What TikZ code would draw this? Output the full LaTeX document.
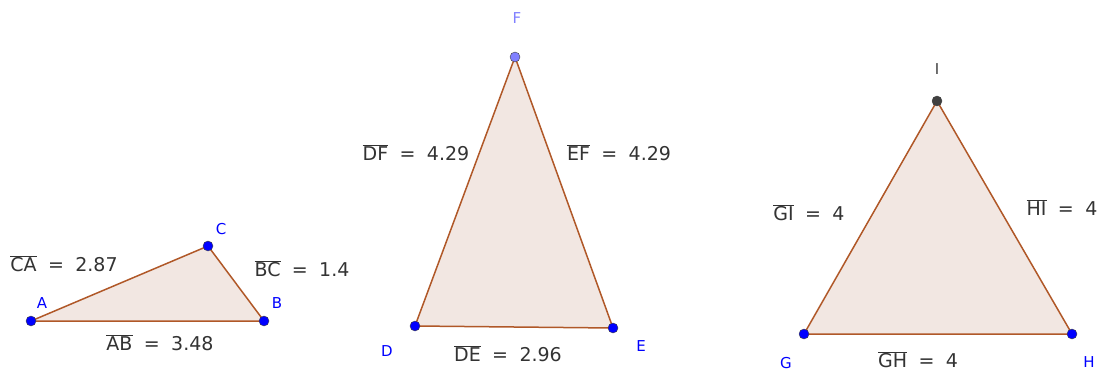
\documentclass[tikz,border=0pt]{standalone}
\usepackage{fontspec}
\setmainfont{DejaVu Sans}
\definecolor{edge}{RGB}{176,88,40}
\definecolor{face}{RGB}{242,231,226}
\definecolor{ptblue}{RGB}{0,0,255}
\definecolor{ptlight}{RGB}{128,128,255}
\definecolor{ptgray}{RGB}{64,64,64}
\definecolor{txt}{RGB}{51,51,51}
\newcommand{\seg}[2]{$\overline{\mbox{#1}}$\hspace{0.6em}=\hspace{0.6em}#2}
\begin{document}
\begin{tikzpicture}[x=1pt,y=-1pt,
			tri/.style={
				draw=edge,
				fill=face,
				line width=1.5pt,
				line join=round
			},
			pt/.style={
				circle,
				draw=black!75,
				fill=ptblue,
				inner sep=0pt,
				minimum size=10pt
			},
			lab/.style={
				text=ptblue,
				font=\fontsize{15}{15}\selectfont
			},
			len/.style={
				text=txt,
				font=\fontsize{19}{19}\selectfont
			}
			]
			\useasboundingbox (0,0) rectangle (1099,371);
			%---------------- TAM GIAC ABC ----------------
			\coordinate (A) at (31,321);
			\coordinate (B) at (264,321);
			\coordinate (C) at (208,246);
			\draw[tri] (A) -- (B) -- (C) -- cycle;
			\node[pt] (pA) at (A) {};
			\node[pt] (pB) at (B) {};
			\node[pt] (pC) at (C) {};
			\node[lab] (lA) at (42,303) {A};
			\node[lab] (lB) at (277,303) {B};
			\node[lab] (lC) at (221,229) {C};
			\node[len] (lCA) at (64,264) {\seg{CA}{2.87}};
			\node[len] (lBC) at (302,269) {\seg{BC}{1.4}};
			\node[len] (lAB) at (160,343) {\seg{AB}{3.48}};
			%---------------- TAM GIAC DEF ----------------
			\coordinate (D) at (415,326);
			\coordinate (E) at (613,328);
			\coordinate (F) at (515,57);
			\draw[tri] (D) -- (E) -- (F) -- cycle;
			\node[pt] (pD) at (D) {};
			\node[pt] (pE) at (E) {};
			\node[pt, fill=ptlight] (pF) at (F) {};
			\node[lab] (lD) at (387,351) {D};
			\node[lab] (lE) at (641,346) {E};
			\node[lab, text=ptlight] (lF) at (517,18) {F};
			\node[len] (lDF) at (416,153) {\seg{DF}{4.29}};
			\node[len] (lEF) at (619,153) {\seg{EF}{4.29}};
			\node[len] (lDE) at (508,354) {\seg{DE}{2.96}};
			%---------------- TAM GIAC GHI ----------------
			\coordinate (G) at (804,334);
			\coordinate (H) at (1072,334);
			\coordinate (I) at (937,101);
			\draw[tri] (G) -- (H) -- (I) -- cycle;
			\node[pt] (pG) at (G) {};
			\node[pt] (pH) at (H) {};
			\node[pt, fill=ptgray] (pI) at (I) {};
			\node[lab] (lG) at (786,363) {G};
			\node[lab] (lH) at (1089,362) {H};
			\node[lab, text=ptgray] (lI) at (937,69) {I};
			\node[len] (lGI) at (809,213) {\seg{GI}{4}};
			\node[len] (lHI) at (1062,208) {\seg{HI}{4}};
			\node[len] (lGH) at (918,360) {\seg{GH}{4}};
		\end{tikzpicture}
\end{document}
